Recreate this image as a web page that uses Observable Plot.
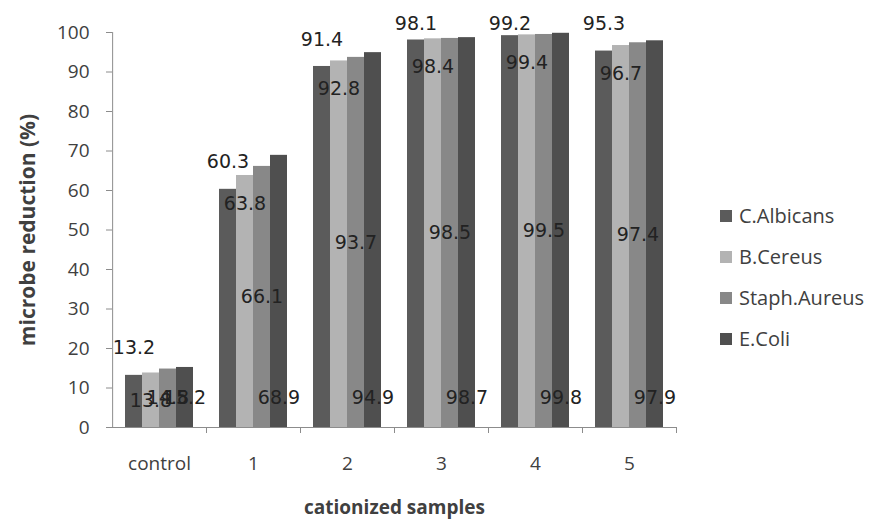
<!DOCTYPE html>
<html><head><meta charset="utf-8">
<script src="https://cdn.jsdelivr.net/npm/d3@7"></script>
<script src="https://cdn.jsdelivr.net/npm/@observablehq/plot@0.6"></script>
<style>
body{margin:0;background:#fff;}
#wrap{position:relative;width:893px;height:524px;overflow:hidden;}
#legend{position:absolute;left:720px;top:195px;font-family:"Open Sans";font-size:20px;color:#404040;}
.item{display:flex;align-items:center;height:41px;}
.sw{width:12px;height:12px;margin-right:7px;}
[aria-label="y-axis label"] text,[aria-label="fx-axis label"] text{font-weight:bold;}
[aria-label="y-axis label"] text{font-size:21px;}
</style></head><body><div id="wrap"><div id="chart"></div><div id="legend"></div></div>
<script>
const groups = ["control","1","2","3","4","5"];
const series = ["C.Albicans","B.Cereus","Staph.Aureus","E.Coli"];
const cAlbicans   = [13.2, 60.3, 91.4, 98.1, 99.2, 95.3];
const bCereus     = [13.8, 63.8, 92.8, 98.4, 99.4, 96.7];
const staphAureus = [14.8, 66.1, 93.7, 98.5, 99.5, 97.4];
const eColi       = [15.2, 68.9, 94.9, 98.7, 99.8, 97.9];
const seriesColors = ["#5b5b5b", "#b3b3b3", "#888888", "#4f4f4f"];
// Excel data-label placement used by each series in the original
const labelPlacement = ["outsideEnd", "insideEnd", "center", "insideBase"];
const yTicks = [0, 10, 20, 30, 40, 50, 60, 70, 80, 90, 100];
// outside-end labels are kept inside the chart area
const labelCeiling = 95.3;

const valuesBySeries = [cAlbicans, bCereus, staphAureus, eColi];
const rows = [];
series.forEach((s, si) => groups.forEach((g, gi) => rows.push({group: g, series: s, value: valuesBySeries[si][gi], placement: labelPlacement[si]})));

const W = 893, H = 524, mL = 112, mR = 217, mT = 32, mB = 97;
const step = (W - mL - mR) / groups.length;
const outerPad = 0.75;
const bw = step / (series.length + 2 * outerPad);
const fmt = d => d.value.toFixed(1);
const labelFont = {fontSize: 19, fontFamily: "DejaVu Sans", fill: "#222", text: fmt, fx: "group", x: "series"};

const chart = Plot.plot({
  width: W, height: H, marginLeft: mL, marginRight: mR, marginTop: mT, marginBottom: mB,
  style: {fontFamily: "Open Sans", fontSize: "19px", color: "#404040", background: "#fff"},
  fx: {domain: groups, padding: 0},
  x: {domain: series, paddingInner: 0, paddingOuter: outerPad, axis: null},
  y: {domain: [0, 100]},
  color: {domain: series, range: seriesColors},
  marks: [
    Plot.barY(rows, {fx: "group", x: "series", y: "value", fill: "series"}),
    Plot.ruleY([0], {stroke: "#8c8c8c"}),
    Plot.axisY({ticks: yTicks, tickSize: 6, tickPadding: 17, fontSize: 19, stroke: "#8c8c8c",
      label: "microbe reduction (%)", labelAnchor: "center", labelOffset: 92, labelArrow: "none"}),
    // y-axis line at the left edge of the first group
    Plot.ruleX([{g: groups[0], s: series[0]}], {fx: "g", x: "s", y1: 0, y2: 100, dx: -(bw / 2 + outerPad * bw), stroke: "#8c8c8c"}),
    Plot.axisFx({anchor: "bottom", tickSize: 0, tickPadding: 29, fontSize: 19, label: "cationized samples", labelAnchor: "center", labelOffset: 86, labelArrow: "none"}),
    Plot.axisFx({anchor: "bottom", tickSize: 6, tickFormat: () => "", dx: step / 2, label: null, stroke: "#8c8c8c"}),
    Plot.text(rows.filter(d => d.placement === "outsideEnd"), {...labelFont, y: d => Math.min(d.value, labelCeiling), dy: -27}),
    Plot.text(rows.filter(d => d.placement === "insideEnd"), {...labelFont, y: "value", dy: 28}),
    Plot.text(rows.filter(d => d.placement === "center"), {...labelFont, y: d => d.value / 2}),
    Plot.text(rows.filter(d => d.placement === "insideBase"), {...labelFont, y: 0, dy: -30})
  ]
});
document.getElementById("chart").append(chart);

const legend = document.getElementById("legend");
series.forEach((s, i) => {
  const item = document.createElement("div");
  item.className = "item";
  const sw = document.createElement("span");
  sw.className = "sw"; sw.style.background = seriesColors[i];
  const t = document.createElement("span"); t.textContent = s;
  item.append(sw, t); legend.append(item);
});
</script></body></html>
